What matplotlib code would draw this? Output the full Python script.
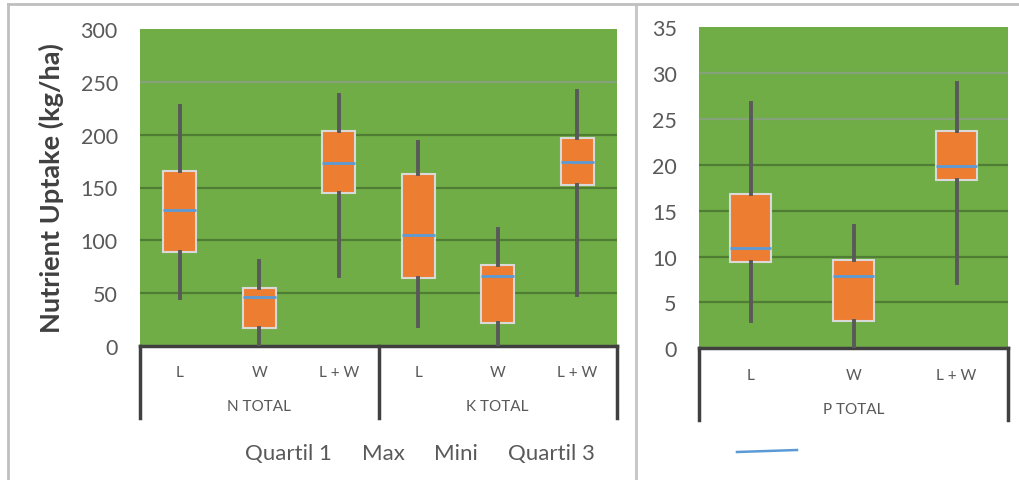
import matplotlib
matplotlib.use("Agg")
import matplotlib.pyplot as plt
from matplotlib.lines import Line2D
from matplotlib.patches import Rectangle
import matplotlib.transforms as mtransforms

plt.rcParams['font.family'] = ['Lato', 'DejaVu Sans']

# ---------------- data ----------------
treatments = ["L", "W", "L + W"]
groups_left = ["N TOTAL", "K TOTAL"]
group_right = "P TOTAL"

# N TOTAL (kg/ha)
n_min = [45, 0, 66]
n_q1 = [89, 17, 145]
n_med = [129, 46, 173]
n_q3 = [166, 55, 203]
n_max = [227, 80, 238]

# K TOTAL (kg/ha)
k_min = [19, 0, 48]
k_q1 = [64, 22, 152]
k_med = [105, 66, 174]
k_q3 = [163, 77, 197]
k_max = [193, 111, 241]

# P TOTAL (kg/ha)
p_min = [3.0, 0, 7.1]
p_q1 = [9.4, 3.0, 18.3]
p_med = [10.9, 7.9, 19.9]
p_q3 = [16.8, 9.6, 23.7]
p_max = [26.8, 13.3, 28.9]

left_yticks = [0, 50, 100, 150, 200, 250, 300]
right_yticks = [0, 5, 10, 15, 20, 25, 30, 35]
legend_labels = ["Quartil 1", "Max", "Mini", "Quartil 3"]

# ---------------- style ----------------
GREEN = "#70AD47"
ORANGE = "#ED7D31"
BLUE = "#5B9BD5"
WHISK = "#595959"
TXT = "#595959"
GRID_DARK = "#4F7D33"
GRID_LIGHT = "#86A27A"

W, H = 1019, 481
fig = plt.figure(figsize=(W / 100, H / 100), dpi=100)


def fx(x):
    return x / W


def fy(y):
    return 1 - y / H


def make_stats(mins, q1s, meds, q3s, maxs):
    return [dict(whislo=a, q1=b, med=c, q3=d, whishi=e, fliers=[])
            for a, b, c, d, e in zip(mins, q1s, meds, q3s, maxs)]


def draw_panel(ax, stats, positions, width, ymax, yticks, light_from):
    ax.set_facecolor(GREEN)
    for t in yticks[1:-1]:
        ax.axhline(t, color=GRID_LIGHT if t >= light_from else GRID_DARK,
                   lw=1.6, zorder=1)
    ax.bxp(stats, positions=positions, widths=width, patch_artist=True,
           showcaps=False, showfliers=False,
           boxprops=dict(facecolor=ORANGE, edgecolor="#D9D9D9", linewidth=1.5),
           whiskerprops=dict(color=WHISK, linewidth=2.8),
           medianprops=dict(color=BLUE, linewidth=2.0),
           zorder=3)
    ax.set_ylim(0, ymax)
    ax.set_yticks(yticks)
    ax.tick_params(axis="y", length=0, labelsize=15.5, labelcolor=TXT, pad=16)
    ax.tick_params(axis="x", length=0, labelsize=11, labelcolor=TXT, pad=14)
    for s in ["top", "right", "left"]:
        ax.spines[s].set_visible(False)
    ax.spines["bottom"].set_color("#404040")
    ax.spines["bottom"].set_linewidth(2.5)


# ---------------- left panel ----------------
x0, x1, ytop, ybot = 140, 617, 30, 347
ax1 = fig.add_axes([fx(x0), fy(ybot), fx(x1 - x0), (ybot - ytop) / H])
stats_left = make_stats(n_min, n_q1, n_med, n_q3, n_max) + \
    make_stats(k_min, k_q1, k_med, k_q3, k_max)
pos_left = list(range(len(stats_left)))
draw_panel(ax1, stats_left, pos_left, 0.42, 300, left_yticks, 250)
ax1.set_xlim(-0.5, len(stats_left) - 0.5)
ax1.set_xticks(pos_left)
ax1.set_xticklabels(treatments * len(groups_left))
ax1.set_ylabel("Nutrient Uptake (kg/ha)", fontsize=19.5, fontweight="bold",
               color="#404040", labelpad=12)

trans1 = mtransforms.blended_transform_factory(ax1.transData, ax1.transAxes)
depth = (419 - ybot) / (ybot - ytop)
for xv in [-0.5, 2.5, 5.5]:
    ax1.add_line(Line2D([xv, xv], [0, -depth], transform=trans1, color="#404040",
                        lw=2.5, clip_on=False))
for gi, g in enumerate(groups_left):
    ax1.text(gi * 3 + 1, -(407 - ybot) / (ybot - ytop), g, transform=trans1,
             ha="center", va="center", fontsize=11, color=TXT)

# ---------------- right panel ----------------
rx0, rx1, rytop, rybot = 699, 1008, 28.3, 349.3
ax2 = fig.add_axes([fx(rx0), fy(rybot), fx(rx1 - rx0), (rybot - rytop) / H])
stats_right = make_stats(p_min, p_q1, p_med, p_q3, p_max)
pos_right = list(range(len(stats_right)))
draw_panel(ax2, stats_right, pos_right, 0.40, 35, right_yticks, 25)
ax2.set_xlim(-0.5, len(stats_right) - 0.5)
ax2.set_xticks(pos_right)
ax2.set_xticklabels(treatments)

trans2 = mtransforms.blended_transform_factory(ax2.transData, ax2.transAxes)
depth2 = (421 - rybot) / (rybot - rytop)
for xv in [-0.5, 2.5]:
    ax2.add_line(Line2D([xv, xv], [0, -depth2], transform=trans2, color="#404040",
                        lw=2.5, clip_on=False))
ax2.text(1, -(410 - rybot) / (rybot - rytop), group_right, transform=trans2,
         ha="center", va="center", fontsize=11, color=TXT)

# ---------------- legends ----------------
leg_x = [245, 362, 434, 508]
for lx, lab in zip(leg_x, legend_labels):
    fig.text(fx(lx), fy(454), lab, ha="left", va="center", fontsize=16, color=TXT)
fig.add_artist(Line2D([fx(737), fx(797)], [fy(453), fy(451)], color=BLUE, lw=1.8))

# ---------------- frames ----------------
fig.add_artist(Line2D([fx(7.5), fx(1019)], [fy(4.5), fy(4.5)], color="#BFBFBF", lw=2))
fig.add_artist(Line2D([fx(7.5), fx(7.5)], [fy(4.5), 0], color="#BFBFBF", lw=2))
fig.add_artist(Rectangle((fx(635), 0), fx(3), fy(4.5), color="#C8C8C8", lw=0))

fig.savefig("out.png", dpi=100, facecolor="white")
